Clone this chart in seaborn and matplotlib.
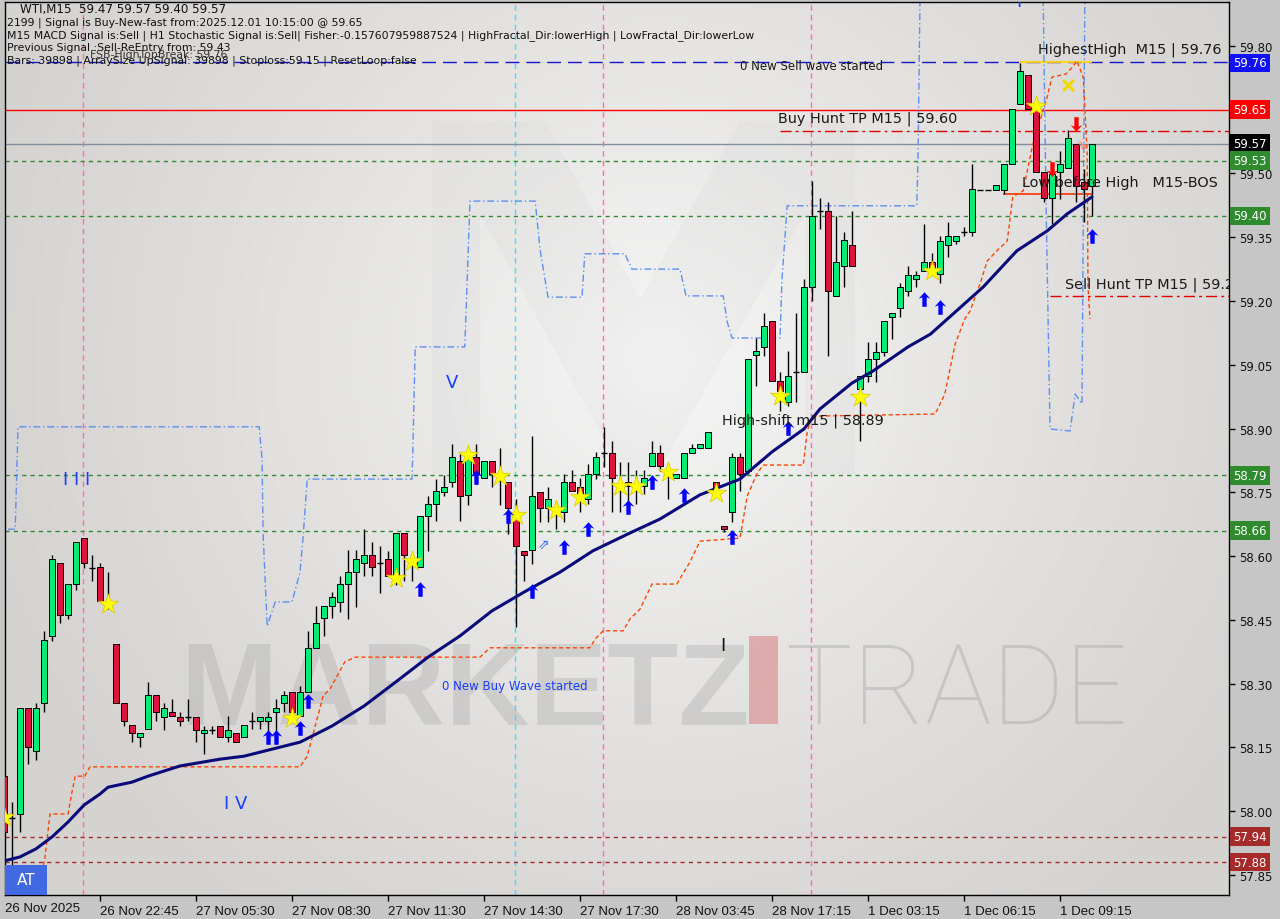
# -*- coding: utf-8 -*-
"""
WTI M15 candlestick chart with signal overlays (MT4 style screenshot recreation).
"""

import numpy as np
import pandas as pd
import matplotlib
matplotlib.use("Agg")
import matplotlib.pyplot as plt
import seaborn as sns
from matplotlib.patches import Rectangle, Polygon
from matplotlib.transforms import blended_transform_factory


# =============================================================================
# Data
# =============================================================================

opens = [58.082, 57.984, 57.993, 58.242, 58.141, 58.254, 58.412, 58.584, 58.461, 58.534,
         58.642, 58.572, 58.574, 58.490, 58.393, 58.254, 58.202, 58.174, 58.193, 58.273,
         58.221, 58.233, 58.221, 58.221, 58.221, 58.184, 58.191, 58.200, 58.174, 58.184,
         58.174, 58.212, 58.212, 58.212, 58.233, 58.254, 58.280, 58.224, 58.280, 58.384,
         58.454, 58.482, 58.492, 58.534, 58.562, 58.584, 58.602, 58.584, 58.593, 58.553,
         58.654, 58.580, 58.574, 58.694, 58.722, 58.751, 58.774, 58.824, 58.744, 58.833,
         58.784, 58.824, 58.790, 58.774, 58.687, 58.612, 58.614, 58.751, 58.713, 58.700,
         58.704, 58.774, 58.762, 58.734, 58.793, 58.842, 58.842, 58.770, 58.774, 58.765,
         58.765, 58.812, 58.842, 58.800, 58.784, 58.784, 58.842, 58.854, 58.854, 58.774,
         58.671, 58.704, 58.833, 58.800, 59.073, 59.092, 59.153, 59.012, 58.962, 59.033,
         59.033, 59.233, 59.412, 59.412, 59.212, 59.282, 59.332, 58.993, 59.024, 59.064,
         59.080, 59.162, 59.184, 59.224, 59.252, 59.271, 59.292, 59.264, 59.332, 59.341,
         59.362, 59.362, 59.461, 59.461, 59.461, 59.461, 59.522, 59.664, 59.732, 59.652,
         59.504, 59.442, 59.504, 59.513, 59.570, 59.480, 59.470]

highs = [58.110, 58.021, 58.242, 58.242, 58.254, 58.424, 58.602, 58.584, 58.534, 58.633,
         58.642, 58.602, 58.584, 58.562, 58.393, 58.254, 58.202, 58.184, 58.304, 58.273,
         58.254, 58.264, 58.233, 58.264, 58.221, 58.200, 58.200, 58.200, 58.224, 58.184,
         58.202, 58.233, 58.221, 58.233, 58.264, 58.282, 58.280, 58.294, 58.424, 58.482,
         58.482, 58.515, 58.553, 58.614, 58.614, 58.664, 58.633, 58.624, 58.612, 58.654,
         58.654, 58.602, 58.694, 58.741, 58.781, 58.791, 58.864, 58.840, 58.845, 58.864,
         58.824, 58.824, 58.854, 58.774, 58.734, 58.612, 58.882, 58.751, 58.762, 58.727,
         58.793, 58.802, 58.784, 58.817, 58.845, 58.904, 58.871, 58.821, 58.821, 58.802,
         58.802, 58.871, 58.861, 58.812, 58.793, 58.842, 58.864, 58.864, 58.892, 58.774,
         58.671, 58.842, 58.842, 59.064, 59.113, 59.172, 59.153, 59.033, 59.082, 59.172,
         59.252, 59.482, 59.442, 59.433, 59.400, 59.362, 59.412, 59.024, 59.104, 59.104,
         59.153, 59.172, 59.242, 59.282, 59.270, 59.381, 59.313, 59.353, 59.386, 59.353,
         59.374, 59.522, 59.461, 59.461, 59.473, 59.522, 59.652, 59.760, 59.732, 59.652,
         59.504, 59.499, 59.553, 59.602, 59.570, 59.510, 59.570]

lows = [57.934, 57.871, 57.951, 58.111, 58.120, 58.233, 58.400, 58.442, 58.452, 58.520,
        58.572, 58.541, 58.494, 58.475, 58.254, 58.200, 58.162, 58.151, 58.193, 58.212,
        58.191, 58.224, 58.200, 58.212, 58.162, 58.134, 58.181, 58.174, 58.162, 58.162,
        58.174, 58.193, 58.193, 58.181, 58.188, 58.233, 58.221, 58.224, 58.280, 58.384,
        58.412, 58.454, 58.468, 58.452, 58.480, 58.553, 58.553, 58.513, 58.553, 58.532,
        58.541, 58.541, 58.574, 58.612, 58.682, 58.741, 58.762, 58.682, 58.720, 58.769,
        58.784, 58.762, 58.720, 58.652, 58.433, 58.541, 58.581, 58.680, 58.680, 58.664,
        58.680, 58.753, 58.704, 58.722, 58.781, 58.809, 58.704, 58.704, 58.722, 58.722,
        58.746, 58.812, 58.800, 58.734, 58.784, 58.784, 58.842, 58.854, 58.854, 58.750,
        58.657, 58.680, 58.753, 58.793, 59.000, 59.071, 59.012, 58.941, 58.953, 58.962,
        59.033, 59.200, 59.369, 59.071, 59.212, 59.233, 59.282, 58.871, 59.010, 59.010,
        59.071, 59.110, 59.162, 59.212, 59.233, 59.271, 59.262, 59.242, 59.304, 59.335,
        59.353, 59.353, 59.461, 59.461, 59.461, 59.452, 59.522, 59.664, 59.652, 59.504,
        59.433, 59.381, 59.440, 59.513, 59.433, 59.386, 59.400]

closes = [57.951, 57.984, 58.242, 58.151, 58.242, 58.402, 58.593, 58.461, 58.534, 58.633,
          58.584, 58.572, 58.494, 58.490, 58.254, 58.212, 58.184, 58.184, 58.273, 58.233,
          58.242, 58.224, 58.212, 58.221, 58.191, 58.191, 58.191, 58.174, 58.191, 58.162,
          58.202, 58.212, 58.221, 58.221, 58.242, 58.273, 58.233, 58.280, 58.384, 58.442,
          58.482, 58.504, 58.534, 58.562, 58.593, 58.602, 58.574, 58.584, 58.553, 58.654,
          58.602, 58.585, 58.694, 58.722, 58.753, 58.762, 58.833, 58.741, 58.828, 58.793,
          58.824, 58.793, 58.780, 58.713, 58.624, 58.602, 58.741, 58.713, 58.734, 58.710,
          58.774, 58.753, 58.746, 58.793, 58.833, 58.842, 58.784, 58.760, 58.765, 58.770,
          58.784, 58.842, 58.812, 58.790, 58.793, 58.842, 58.854, 58.864, 58.892, 58.762,
          58.664, 58.833, 58.793, 59.064, 59.082, 59.141, 59.012, 58.988, 59.024, 59.033,
          59.233, 59.400, 59.412, 59.224, 59.292, 59.344, 59.282, 59.024, 59.064, 59.080,
          59.153, 59.172, 59.233, 59.261, 59.261, 59.292, 59.271, 59.341, 59.353, 59.353,
          59.362, 59.464, 59.461, 59.461, 59.473, 59.522, 59.652, 59.741, 59.652, 59.504,
          59.442, 59.499, 59.522, 59.584, 59.471, 59.464, 59.570]

## Moving average (bar index, price)
ma_idx = [-0.5, 2, 4, 6, 8, 10, 12, 13, 16, 18, 22, 27, 30, 37, 41, 45, 49, 53, 57, 61,
          65, 69.5, 73.6, 78, 82, 87, 92, 96, 100, 102, 106, 108.6, 113, 115.8, 118.6,
          122.4, 126.6, 130.4, 132.9, 136]
ma_val = [57.880, 57.892, 57.911, 57.939, 57.974, 58.014, 58.040, 58.056, 58.068, 58.082,
          58.106, 58.122, 58.129, 58.162, 58.200, 58.247, 58.304, 58.362, 58.412, 58.471,
          58.515, 58.562, 58.612, 58.652, 58.687, 58.744, 58.781, 58.845, 58.899, 58.946,
          59.007, 59.035, 59.092, 59.122, 59.169, 59.233, 59.318, 59.365, 59.405, 59.445]

## Upper band (blue dash-dot steps)
upper_idx = [0.5, 1.4, 1.75, 31.9, 32.25, 32.4, 32.9, 33.9, 36, 37, 37.4, 37.9, 51, 51.1,
             51.4, 57.6, 58.25, 66.4, 67, 68, 72.25, 72.6, 77.6, 78.5, 84.5, 85.25, 89.9,
             90.4, 91, 97, 97.25, 97.9, 114.1, 114.25, 114.5]
upper_val = [58.663, 58.663, 58.904, 58.904, 58.828, 58.647, 58.435, 58.492, 58.492, 58.562,
             58.647, 58.781, 58.781, 58.845, 59.092, 59.092, 59.435, 59.435, 59.322, 59.209,
             59.209, 59.311, 59.311, 59.275, 59.275, 59.212, 59.212, 59.151, 59.113, 59.113,
             59.252, 59.424, 59.424, 59.534, 59.910]
upper2_idx = [129.9, 130.25, 130.75, 133.25, 133.9, 134.75, 135.1]
upper2_val = [59.910, 59.440, 58.899, 58.894, 58.981, 58.958, 59.910]

## Lower band (orange dotted steps)
lower_idx = [4.5, 5.1, 5.75, 8, 8.5, 8.9, 10.1, 10.75, 37, 37.9, 39.9, 40.75, 42.6, 43.9,
             59.5, 60.75, 73.25, 73.9, 74.9, 77.4, 78.25, 79.5, 81, 84.1, 85.75, 87, 92,
             92.9, 94.1, 94.9, 99.9, 100.4, 101, 116.4, 117.6, 118.9, 120.1, 120.75, 122,
             122.9, 124.1, 125.4, 126.1, 127.4, 128.6, 129.5, 130.4, 131, 132.75, 133.6,
             134.1, 134.9, 135.4, 135.5, 135.75]
lower_val = [57.840, 57.887, 57.993, 57.993, 58.045, 58.082, 58.082, 58.104, 58.104, 58.129,
             58.271, 58.287, 58.351, 58.362, 58.362, 58.384, 58.384, 58.405, 58.424, 58.424,
             58.452, 58.475, 58.534, 58.534, 58.586, 58.635, 58.642, 58.741, 58.793, 58.814,
             58.814, 58.892, 58.929, 58.934, 58.981, 59.099, 59.158, 59.176, 59.240, 59.294,
             59.318, 59.341, 59.445, 59.459, 59.569, 59.624, 59.680, 59.727, 59.734, 59.751,
             59.765, 59.727, 59.546, 59.233, 59.158]

## Signal markers (bar index, price)
star_idx = [0, 13, 36, 49, 51, 58, 62, 64, 69, 72, 77, 79, 83, 89, 97, 107, 116, 129]
star_val = [57.986, 58.487, 58.219, 58.548, 58.588, 58.838, 58.788, 58.696, 58.708, 58.739,
            58.765, 58.765, 58.798, 58.748, 58.976, 58.974, 59.271, 59.659]
up_idx = [33, 34, 37, 38, 52, 59, 63, 66, 70, 73, 78, 81, 85, 91, 98, 115, 117, 136]
up_val = [58.174, 58.174, 58.195, 58.259, 58.522, 58.786, 58.694, 58.518, 58.621, 58.664,
          58.715, 58.774, 58.744, 58.645, 58.901, 59.205, 59.186, 59.353]
down_idx = [131, 134]
down_val = [59.511, 59.616]

## Horizontal price levels and their right-axis tags
level_prices = [59.76, 59.65, 59.57, 59.53, 59.40, 58.79, 58.66, 57.94, 57.88]
level_colors = ['#1010ff', '#ff0000', '#000000', '#2e8b2e', '#2e8b2e', '#2e8b2e', '#2e8b2e',
                '#a52a2a', '#a52a2a']

y_ticks = [59.80, 59.50, 59.35, 59.20, 59.05, 58.90, 58.75, 58.60, 58.45, 58.30, 58.15,
           58.00, 57.85]
x_tick_idx = [12, 24, 36, 48, 60, 72, 84, 96, 108, 120, 132]
x_tick_labels = ['26 Nov 22:45', '27 Nov 05:30', '27 Nov 08:30', '27 Nov 11:30',
                 '27 Nov 14:30', '27 Nov 17:30', '28 Nov 03:45', '28 Nov 17:15',
                 '1 Dec 03:15', '1 Dec 06:15', '1 Dec 09:15']

header_lines = [
    "WTI,M15  59.47 59.57 59.40 59.57",
    "2199 | Signal is Buy-New-fast from:2025.12.01 10:15:00 @ 59.65",
    "M15 MACD Signal is:Sell | H1 Stochastic Signal is:Sell| Fisher:-0.157607959887524 "
    "| HighFractal_Dir:lowerHigh | LowFractal_Dir:lowerLow",
    "Previous Signal :Sell-ReEntry from: 59.43",
    "Bars: 39898 | ArraySize UpSignal: 39898 | Stoploss:59.15 | ResetLoop:false",
]


# =============================================================================
# Setup
# =============================================================================
sns.set_theme(style="white")
plt.rcParams['font.family'] = ['DejaVu Sans']

df = pd.DataFrame({'open': opens, 'high': highs, 'low': lows, 'close': closes})
df['idx'] = np.arange(len(df))

fig = plt.figure(figsize=(12.8, 9.2), dpi=100)
fig.patch.set_facecolor('#c6c6c6')
ax = fig.add_axes([5 / 1280, 24 / 920, 1224 / 1280, 893 / 920])
ax.set_facecolor('#d9d7d4')


def px2ax(px, py):
    return (px - 5) / 1224, (896 - py) / 893


## Light background gradient
gy, gx = np.mgrid[0:1:200j, 0:1:300j]
cx, cy = px2ax(660, 360)
r = np.sqrt(((gx - cx) * 1.37) ** 2 + (gy - cy) ** 2)
light = np.clip(1 - r / 0.8, 0, 1) ** 1.2
base = np.array([0.835, 0.828, 0.818])
top = np.array([0.965, 0.965, 0.965])
img = base + (top - base) * light[..., None]
ax.imshow(img, extent=(0, 1, 0, 1), transform=ax.transAxes, origin='lower',
          aspect='auto', zorder=0)

## Watermark: faint M logo + MARKETZ TRADE
m_logo = [(432, 122), (545, 122), (640, 300), (740, 122), (855, 122), (855, 475),
          (805, 475), (805, 215), (660, 470), (620, 470), (480, 215), (480, 475), (432, 475)]
ax.add_patch(Polygon([px2ax(*p) for p in m_logo], closed=True, transform=ax.transAxes,
                     fc='#9a9a9a', ec='none', alpha=0.05, zorder=1))
ax.text(*px2ax(180, 725), 'MARKETZ', transform=ax.transAxes, ha='left', va='baseline',
        fontsize=84, fontweight='bold', family='Liberation Sans', color='#a8a8a8',
        alpha=0.35, zorder=1)
ax.add_patch(Rectangle(px2ax(749, 725), 29 / 1224, 88 / 893, transform=ax.transAxes,
                       fc='#d88f8f', ec='none', alpha=0.65, zorder=1))
ax.text(*px2ax(786, 725), 'TRADE', transform=ax.transAxes, ha='left', va='baseline',
        fontsize=80, fontweight='light', family='Roboto', color='#a8a8a8',
        alpha=0.45, zorder=1)

## Session separators
for xi, col in [(9.9, '#ff6fae'), (63.9, '#40e0f0'), (74.9, '#ff6fae'), (100.9, '#ff6fae')]:
    ax.axvline(xi, color=col, lw=1, ls=(0, (4, 3)), zorder=2)


# =============================================================================
# Levels
# =============================================================================
ax.axhline(59.762, color='#1515c8', lw=1, ls=(0, (10, 5)), zorder=2)
ax.axhline(59.65, color='#ff0000', lw=1, zorder=2)
ax.axhline(59.57, color='#7f8fa0', lw=1, zorder=2)
for lv in [59.53, 59.40, 58.79, 58.66]:
    ax.axhline(lv, color='#2e8b2e', lw=1, ls=(0, (3, 3)), zorder=2)
for lv in [57.94, 57.88]:
    ax.axhline(lv, color='#a52a2a', lw=1, ls=(0, (3, 3)), zorder=2)
ax.hlines(59.60, 97, 153.2, color='#e00000', lw=1, ls=(0, (8, 3, 2, 3)), zorder=2)
ax.hlines(59.212, 130.75, 153.2, color='#e00000', lw=1, ls=(0, (8, 3, 2, 3)), zorder=2)
ax.hlines(59.762, 126.9, 136, color='#ffd700', lw=1.3, zorder=2)
ax.hlines(59.452, 124.9, 136, color='#ff3300', lw=1.2, zorder=2)


# =============================================================================
# Bands and moving average
# =============================================================================
sns.lineplot(x=upper_idx, y=upper_val, ax=ax, sort=False, estimator=None,
             color='#5f8fef', lw=1, ls=(0, (5, 2, 1, 2)), zorder=2)
sns.lineplot(x=upper2_idx, y=upper2_val, ax=ax, sort=False, estimator=None,
             color='#5f8fef', lw=1, ls=(0, (5, 2, 1, 2)), zorder=2)
sns.lineplot(x=lower_idx, y=lower_val, ax=ax, sort=False, estimator=None,
             color='#ff4500', lw=1, ls=(0, (3, 2)), zorder=2)
sns.lineplot(x=ma_idx, y=ma_val, ax=ax, sort=False, estimator=None,
             color='#0a0a7a', lw=2.2, zorder=5)


# =============================================================================
# Candles
# =============================================================================
o, h, l, c = (df[k].to_numpy() for k in ['open', 'high', 'low', 'close'])
x = df['idx'].to_numpy()
ax.vlines(x, l, h, color='black', lw=1, zorder=3)
up = c > o
dn = c < o
flat = c == o
bw = 0.72
ax.bar(x[up], (c - o)[up], bottom=o[up], width=bw, color='#00ee76',
       edgecolor='black', lw=0.7, zorder=4)
ax.bar(x[dn], (o - c)[dn], bottom=c[dn], width=bw, color='#dc143c',
       edgecolor='black', lw=0.7, zorder=4)
ax.hlines(o[flat], x[flat] - bw / 2, x[flat] + bw / 2, color='black', lw=1, zorder=4)


# =============================================================================
# Signal markers
# =============================================================================
arrow = [(0, 1), (-0.8, 0.1), (-0.3, 0.3), (-0.3, -1), (0.3, -1), (0.3, 0.3), (0.8, 0.1), (0, 1)]
arrow_dn = [(px, -py) for px, py in arrow]
sns.scatterplot(x=star_idx, y=star_val, ax=ax, marker='*', s=230, color='#ffff00',
                edgecolor='#d8c800', linewidth=0.5, zorder=6)
ax.scatter(up_idx, up_val, marker=arrow, s=110, color='#0000ff', linewidths=0, zorder=6)
ax.scatter(down_idx, down_val, marker=arrow_dn, s=110, color='#ff0000', linewidths=0, zorder=6)
ax.scatter([133], [59.708], marker='x', s=60, color='#f0d800', linewidths=2.2, zorder=6)
ax.text(67.5, 58.628, '⇗', color='#3a6df0', fontsize=10, ha='center', va='center', zorder=6)
ax.text(134.7, 59.57, '⇘', color='#f08080', fontsize=10, ha='center', va='center', zorder=6)


# =============================================================================
# Annotations
# =============================================================================
lab = dict(fontsize=10.4, color='#1a1a1a', va='center', ha='left', zorder=7, clip_on=True)
ax.text(129.25, 59.793, 'HighestHigh  M15 | 59.76', **lab)
ax.text(96.75, 59.631, 'Buy Hunt TP M15 | 59.60', **lab)
ax.text(127.25, 59.480, 'Low before High   M15-BOS', **lab)
ax.text(132.6, 59.240, 'Sell Hunt TP M15 | 59.20', **lab)
ax.text(89.75, 58.920, 'High-shift m15 | 58.89', **lab)
ax.text(92, 59.755, '0 New Sell wave started', fontsize=8.5, color='#1a1a1a',
        va='center', ha='left', zorder=7)
ax.text(54.75, 58.296, '0 New Buy Wave started', fontsize=8.5, color='#1a3cff',
        va='center', ha='left', zorder=7)
ax.text(56, 59.009, 'V', fontsize=13, color='#1a3cff', ha='center', va='center', zorder=7)
ax.text(9.1, 58.781, 'I I I', fontsize=13, color='#1a3cff', ha='center', va='center', zorder=7)
ax.text(28.9, 58.019, 'I V', fontsize=13, color='#1a3cff', ha='center', va='center', zorder=7)
ax.text(89.9, 58.391, 'I', fontsize=13, color='#111111', ha='center', va='center', zorder=7)
ax.text(126.9, 59.905, 'I', fontsize=13, color='#1a3cff', ha='center', va='center', zorder=7,
        clip_on=True)

## Header block
for i, line in enumerate(header_lines):
    xx, fs = (20, 8.6) if i == 0 else (7, 7.8)
    ax.text(*px2ax(xx, 10 + i * 12.8), line, transform=ax.transAxes, fontsize=fs,
            color='#111111', ha='left', va='center', zorder=8)
ax.text(*px2ax(90, 55), 'FSB-HighTopBreak: 59.76', transform=ax.transAxes, fontsize=7.8,
        color='#333333', ha='left', va='center', zorder=8)

## AT button
ax.add_patch(Rectangle(px2ax(5, 896), 42 / 1224, 30 / 893, transform=ax.transAxes,
                       fc='#4169e1', ec='none', zorder=9))
ax.text(*px2ax(26, 881), 'AT', transform=ax.transAxes, fontsize=11, color='white',
        ha='center', va='center', zorder=10)


# =============================================================================
# Axes
# =============================================================================
ax.set_xlim(0.125, 153.125)
ax.set_ylim(57.8024, 59.9035)
ax.set_xlabel('')
ax.set_ylabel('')

ax.yaxis.tick_right()
ax.set_yticks(y_ticks)
ax.set_yticklabels([f'{v:.2f}' for v in y_ticks])
ax.tick_params(axis='y', labelsize=8.5, pad=3, length=4, width=1, color='black',
               labelcolor='#111111', right=True, left=False, direction='out')

ax.set_xticks(x_tick_idx)
ax.set_xticklabels(x_tick_labels, family='Liberation Sans', fontsize=9.5, ha='left')
ax.tick_params(axis='x', length=4, width=1, color='black', pad=3, bottom=True,
               labelcolor='#111111', direction='out')
ax.text(0.125, -0.0075, '26 Nov 2025', transform=blended_transform_factory(ax.transData, ax.transAxes),
        family='Liberation Sans', fontsize=9.5, ha='left', va='top', color='#111111')

for sp in ax.spines.values():
    sp.set_visible(True)
    sp.set_color('black')
    sp.set_linewidth(1)

## Right axis price tags
tag_tf = blended_transform_factory(ax.transAxes, ax.transData)
for price, col in zip(level_prices, level_colors):
    ax.text(1.0035, price, f'{price:.2f}', transform=tag_tf, fontsize=8.5, color='white',
            ha='left', va='center', clip_on=False, zorder=10,
            bbox=dict(boxstyle='square,pad=0.25', fc=col, ec='none'))

fig.savefig('out.png', dpi=100, facecolor=fig.get_facecolor())
